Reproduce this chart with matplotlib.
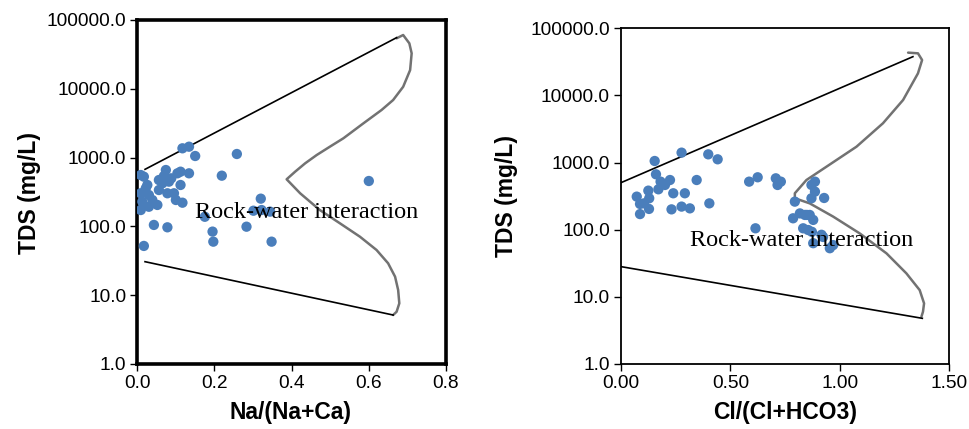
import matplotlib
matplotlib.use("Agg")
import matplotlib.pyplot as plt
from matplotlib.ticker import FormatStrFormatter, NullLocator

# left panel: Na/(Na+Ca) vs TDS
na_ratio = [0.117, 0.134, 0.15, 0.017, 0.074, 0.104, 0.112, 0.134, 0.056, 0.065,
            0.082, 0.026, 0.112, 0.009, 0.03, 0.056, 0.078, 0.095, 0.013, 0.039,
            0.052, 0.1, 0.117, 0.009, 0.043, 0.078, 0.017, 0.03, 0.009, 0.022,
            0.258, 0.219, 0.32, 0.301, 0.322, 0.344, 0.175, 0.283, 0.195, 0.197,
            0.348, 0.6, 0.069, 0.088]
na_tds = [1365, 1440, 1055, 528, 660, 591, 624, 591, 472, 423,
          447, 400, 400, 303, 286, 338, 303, 303, 229, 242,
          205, 242, 221, 173, 105, 97, 52, 193, 558, 358,
          1128, 546, 253, 169, 173, 164, 138, 99, 84, 60,
          60, 457, 540, 500]

# right panel: Cl/(Cl+HCO3) vs TDS
cl_ratio = [0.072, 0.087, 0.087, 0.105, 0.125, 0.129, 0.128, 0.154, 0.16, 0.171,
            0.181, 0.201, 0.224, 0.239, 0.231, 0.277, 0.277, 0.292, 0.315, 0.346,
            0.399, 0.404, 0.442, 0.586, 0.615, 0.625, 0.708, 0.731, 0.716, 0.795,
            0.787, 0.818, 0.841, 0.863, 0.879, 0.833, 0.856, 0.879, 0.917, 0.955,
            0.97, 0.871, 0.887, 0.871, 0.887, 0.929, 0.85, 0.924, 0.873]
cl_tds = [311, 242, 171, 247, 382, 294, 204, 1056, 669, 400,
          520, 464, 550, 349, 201, 1406, 221, 349, 208, 550,
          1327, 247, 1119, 520, 105, 604, 583, 520, 464, 262,
          148, 175, 166, 166, 140, 105, 99, 63, 84, 53,
          59, 464, 520, 294, 369, 297, 166, 78, 93]

# Gibbs boomerang outlines
gibbs_na_x = [0.672, 0.689, 0.705, 0.711, 0.707, 0.689, 0.663, 0.633, 0.586, 0.534,
              0.499, 0.465, 0.435, 0.409, 0.387, 0.422, 0.473, 0.525, 0.577, 0.62,
              0.65, 0.668, 0.676, 0.679, 0.672, 0.663]
gibbs_na_y = [54200, 60500, 45800, 32800, 18700, 10700, 6870, 4920, 3150, 1907,
              1440, 1091, 826, 624, 484, 303, 173, 111, 70.8, 45.4,
              29.1, 18.6, 11.9, 7.62, 5.75, 5.15]
upper_na_x = [0.02, 0.672]
upper_na_y = [675, 55400]
lower_na_x = [0.02, 0.663]
lower_na_y = [30.7, 5.15]

gibbs_cl_x = [1.313, 1.358, 1.377, 1.358, 1.29, 1.198, 1.077, 0.94, 0.848, 0.795,
              0.795, 0.863, 0.97, 1.092, 1.214, 1.305, 1.366, 1.386, 1.381, 1.374]
gibbs_cl_y = [43400, 42400, 33700, 21300, 8550, 3850, 1725, 870, 550, 349,
              294, 247, 157, 88, 44.5, 22.4, 12.6, 8.0, 6.0, 5.07]
upper_cl_x = [0.0, 1.335]
upper_cl_y = [502, 37800]
lower_cl_x = [0.0, 1.378]
lower_cl_y = [28.2, 4.79]

W, H = 970, 429
fig = plt.figure(figsize=(W / 100, H / 100), dpi=100)

ax1 = fig.add_axes([137.3 / W, (H - 364) / H, 308.7 / W, 344 / H])
ax2 = fig.add_axes([621 / W, (H - 364) / H, 328 / W, 335.7 / H])

blue = '#4a7ebb'
curve_grey = '#727272'

panels = [
    (ax1, na_ratio, na_tds, gibbs_na_x, gibbs_na_y, upper_na_x, upper_na_y,
     lower_na_x, lower_na_y, 0.8, [0, 0.2, 0.4, 0.6, 0.8], '%.1f', 2.6, (0.15, 157)),
    (ax2, cl_ratio, cl_tds, gibbs_cl_x, gibbs_cl_y, upper_cl_x, upper_cl_y,
     lower_cl_x, lower_cl_y, 1.5, [0, 0.5, 1.0, 1.5], '%.2f', 1.3, (0.315, 70)),
]

for (ax, xs, ys, gx, gy, ux, uy, lx, ly, xmax, xt, fmt, lw_frame, txt) in panels:
    ax.plot(gx, gy, color=curve_grey, lw=1.8, solid_capstyle='round',
            solid_joinstyle='round')
    ax.plot(ux, uy, color='black', lw=1.2)
    ax.plot(lx, ly, color='black', lw=1.2)
    ax.scatter(xs, ys, s=55, color=blue, edgecolors='none', zorder=3)
    ax.text(txt[0], txt[1], 'Rock-water interaction', family='Liberation Serif',
            fontsize=17.5, va='center', ha='left', zorder=4)
    ax.set_yscale('log')
    ax.set_ylim(1, 100000)
    ax.set_xlim(0, xmax)
    ax.set_xticks(xt)
    ax.xaxis.set_major_formatter(FormatStrFormatter(fmt))
    ax.set_yticks([1, 10, 100, 1000, 10000, 100000])
    ax.yaxis.set_major_formatter(FormatStrFormatter('%.1f'))
    ax.yaxis.set_minor_locator(NullLocator())
    ax.tick_params(direction='out', length=5, width=1, labelsize=13.8, pad=3)
    for lab in ax.get_xticklabels() + ax.get_yticklabels():
        lab.set_family('Liberation Sans')
    for sp in ax.spines.values():
        sp.set_linewidth(lw_frame)

lab_kw = dict(family='Liberation Sans', fontweight='bold', fontsize=16.5,
              ha='center', va='center')
fig.text(30 / W, 1 - 193 / H, 'TDS (mg/L)', rotation=90, **lab_kw)
fig.text(507 / W, 1 - 196 / H, 'TDS (mg/L)', rotation=90, **lab_kw)
fig.text(291 / W, 1 - 413 / H, 'Na/(Na+Ca)', **lab_kw)
fig.text(785 / W, 1 - 413 / H, 'Cl/(Cl+HCO3)', **lab_kw)

fig.savefig('out.png', dpi=100)
